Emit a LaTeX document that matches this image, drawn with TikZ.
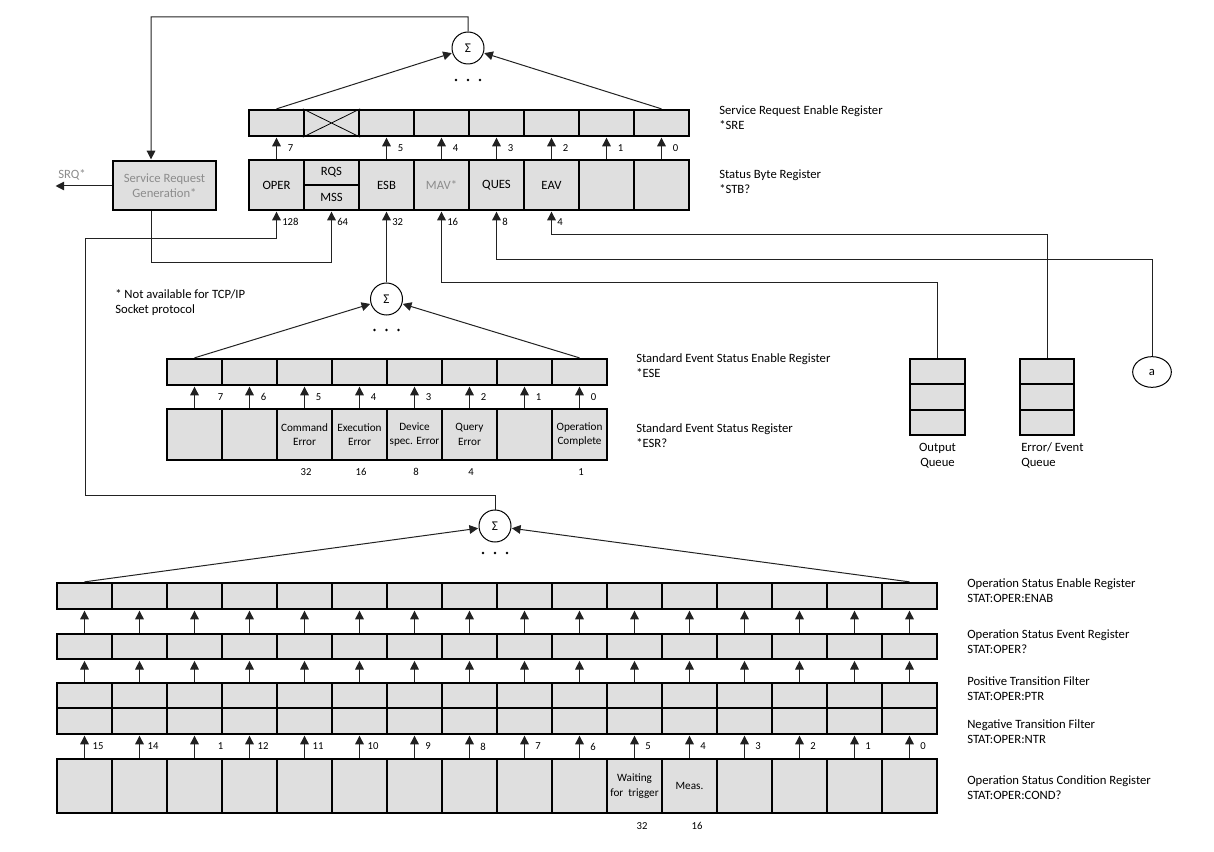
\documentclass[tikz,border=0pt]{standalone}
\usepackage{fontspec}
\setmainfont{Carlito}
\usetikzlibrary{arrows.meta,calc,shapes.geometric}
\definecolor{cellgray}{HTML}{DFDFDF}
\definecolor{txtgray}{HTML}{8C8C8C}
\definecolor{linecol}{HTML}{222222}
\newcommand\fmain{\fontsize{9.5}{11.25}\selectfont}
\newcommand\fcell{\fontsize{8.4}{11}\selectfont}
\newcommand\fnum{\fontsize{8}{9}\selectfont}
\tikzset{
  cell/.style={draw, line width=1.7pt, fill=cellgray, minimum width=41.25pt, inner sep=0pt, font=\fmain, align=center},
  conn/.style={line width=0.75pt, draw=linecol},
  arr/.style={conn, -{Triangle[length=6.5pt,width=6.5pt]}, shorten >=0.4pt},
  sumnode/.style={circle, draw, line width=0.75pt, minimum size=24pt, inner sep=0pt, font=\fontsize{10}{12}\selectfont},
  lbl/.style={anchor=west, inner sep=0pt, font=\fmain, align=left},
  num/.style={inner sep=0pt, font=\fnum},
}
\begin{document}
\begin{tikzpicture}[x=0.75pt,y=-0.75pt]
\useasboundingbox (0,0) rectangle (1214,852);

% ---------------- Status byte section ----------------
\node[sumnode] (sg1) at (468,48) {Σ};
\foreach \dx in {-12,0,12} \fill ({468+\dx},80) circle (1.1pt);

\foreach \i in {0,...,7}
  \node[cell, minimum height=19.5pt] (sre\i) at ({276.5+55*\i},123) {};
\draw[line width=0.6pt] (sre1.north west) -- (sre1.south east)
                        (sre1.south west) -- (sre1.north east);

\node[cell, minimum height=37.5pt] (stb0) at (276.5,185) {OPER};
\node[cell, minimum height=18.75pt] (rqs) at (331.5,172.5) {RQS};
\node[cell, minimum height=18.75pt] (mss) at (331.5,197.5) {MSS};
\node[cell, minimum height=37.5pt] (stb2) at (386.5,185) {ESB};
\node[cell, minimum height=37.5pt, text=txtgray] (stb3) at (441.5,185) {MAV*};
\node[cell, minimum height=37.5pt] (stb4) at (496.5,185) {QUES};
\node[cell, minimum height=37.5pt] (stb5) at (551.5,185) {EAV};
\node[cell, minimum height=37.5pt] (stb6) at (606.5,185) {};
\node[cell, minimum height=37.5pt] (stb7) at (661.5,185) {};

\foreach \i in {0,2,3,4,5,6,7}
  \draw[arr] (stb\i.north) -- (sre\i.south);
\foreach \i/\t in {0/7,2/5,3/4,4/3,5/2,6/1,7/0}
  \node[num] (sl\i) at ({290.5+55*\i},148) {\t};
\foreach \i/\t in {0/128,1/64,2/32,3/16,4/8,5/4}
  \node[num, anchor=west] (bl\i) at ({282+55*\i},222) {\t};

\draw[arr] (sre0.north) -- (sg1);
\draw[arr] (sre7.north) -- (sg1);

% service request generation
\node[cell, minimum width=77.25pt, minimum height=36.75pt, text=txtgray] (srg) at (164.5,185.5) {Service Request\\Generation*};
\coordinate (t1) at (151,17);
\draw[arr] (sg1.north) |- (t1) -- ([xshift=-10.1pt]srg.north);
\coordinate (srq) at (55,186);
\draw[arr] (srg.west |- srq) -- (srq);
\node[num, font=\fmain, text=txtgray] (srqt) at (72,175) {SRQ*};
\draw[arr] ([xshift=-10.1pt]srg.south) -- ++(0,51) -| (mss.south);

\node[lbl] (lsre) at (719,117.5) {Service Request Enable Register\\*SRE};
\node[lbl] (lstb) at (719,181.5) {Status Byte Register\\*STB?};

\node[lbl] (note) at (115,303) {* Not available for TCP/IP\\Socket protocol};

% ---------------- Standard event section ----------------
\node[sumnode] (sg2) at (386.5,299) {Σ};
\foreach \dx in {-12,0,12} \fill ({386.5+\dx},330) circle (1.1pt);
\draw[arr] (sg2.north) -- (stb2.south);

\foreach \i in {0,...,7}
  \node[cell, minimum height=19.5pt] (ese\i) at ({194.5+55*\i},372) {};
\foreach \i/\t in {0/,1/,2/Command\\Error,3/Execution\\Error,4/Device\\spec. Error,5/Query\\Error,6/,7/Operation\\Complete}
  \node[cell, minimum height=38.25pt, font=\fcell] (esr\i) at ({194.5+55*\i},434.5) {\t};
\foreach \i in {0,...,7}
  \draw[arr] (esr\i.north) -- (ese\i.south);
\node[num] (el0) at (220.5,397) {7};
\foreach \i/\t in {1/6,2/5,3/4,4/3,5/2,6/1,7/0}
  \node[num] (el\i) at ({208.5+55*\i},397) {\t};
\foreach \i/\t in {2/32,3/16,4/8,5/4,7/1}
  \node[num] (ev\i) at ({196+55*\i},472) {\t};
\draw[arr] (ese0.north) -- (sg2);
\draw[arr] (ese7.north) -- (sg2);

\node[lbl] (lese) at (636,365.5) {Standard Event Status Enable Register\\*ESE};
\node[lbl] (lesr) at (636,435.5) {Standard Event Status Register\\*ESR?};

% ---------------- Queues ----------------
\foreach \k/\yy in {1/371.7,2/397,3/422.3} {
  \node[cell, minimum height=19pt] (oq\k) at (937.5,\yy) {};
  \node[cell, minimum width=40.5pt, minimum height=19pt] (eq\k) at (1047,\yy) {};
}
\node[inner sep=0pt, font=\fmain, align=center] (loq) at (937.5,455.5) {Output\\Queue};
\node[lbl] (leq) at (1021,455.5) {Error/ Event\\Queue};
\node[ellipse, draw, line width=0.75pt, minimum width=29pt, minimum height=23pt, inner sep=0pt, font=\fmain] (acirc) at (1152,372) {a};

\draw[arr] (oq1.north) -- ++(0,-75) -| (stb3.south);
\draw[arr] (acirc.north) -- ++(0,-97) -| (stb4.south);
\draw[arr] (eq1.north) -- ++(0,-123) -| (stb5.south);

% ---------------- Operation status section ----------------
\node[sumnode] (sg3) at (495,526) {Σ};
\foreach \dx in {-12,0,12} \fill ({495+\dx},553) circle (1.1pt);
\coordinate (c1) at (85,495);
\coordinate (c2) at (85,239);
\draw[arr] (sg3.north) |- (c1) -- (c2) -| (stb0.south);

\foreach \i in {0,...,15} {
  \node[cell, minimum height=19.5pt] (oen\i) at ({84.5+55*\i},596) {};
  \node[cell, minimum height=19pt] (oev\i) at ({84.5+55*\i},646.5) {};
  \node[cell, minimum height=18.75pt] (optr\i) at ({84.5+55*\i},695.5) {};
  \node[cell, minimum height=19.5pt] (ontr\i) at ({84.5+55*\i},721) {};
}
\foreach \i in {0,...,15}
  \node[cell, minimum height=40.5pt, font=\fcell] (ocd\i) at ({84.5+55*\i},786) {};
\node[font=\fcell, align=center, inner sep=0pt] (wft) at (ocd10) {Waiting\\for~~trigger};
\node[font=\fcell, inner sep=0pt] (mea) at (ocd11) {Meas.};

\foreach \i in {0,...,15} {
  \draw[arr] (oev\i.north) -- (oen\i.south);
  \draw[arr] (optr\i.north) -- (oev\i.south);
  \draw[arr] (ocd\i.north) -- (ontr\i.south);
}
\foreach \i/\t in {0/15,1/14,3/12,4/11,5/10,6/9,7/8,8/7,9/6,10/5,11/4,12/3,13/2,14/1,15/0}
  \node[num] (ol\i) at ({98+55*\i},746.5) {\t};
\node[num] (ol2) at (220.5,746.5) {1};
\node[num] (ob10) at (642,826) {32};
\node[num] (ob11) at (697,826) {16};

\draw[arr] (oen0.north) -- (sg3);
\draw[arr] (oen15.north) -- (sg3);

\node[lbl] (lo1) at (967,590.5) {Operation Status Enable Register\\STAT:OPER:ENAB};
\node[lbl] (lo2) at (967,641.5) {Operation Status Event Register\\STAT:OPER?};
\node[lbl] (lo3) at (967,689) {Positive Transition Filter\\STAT:OPER:PTR};
\node[lbl] (lo4) at (967,732) {Negative Transition Filter\\STAT:OPER:NTR};
\node[lbl] (lo5) at (967,788) {Operation Status Condition Register\\STAT:OPER:COND?};
\end{tikzpicture}
\end{document}
